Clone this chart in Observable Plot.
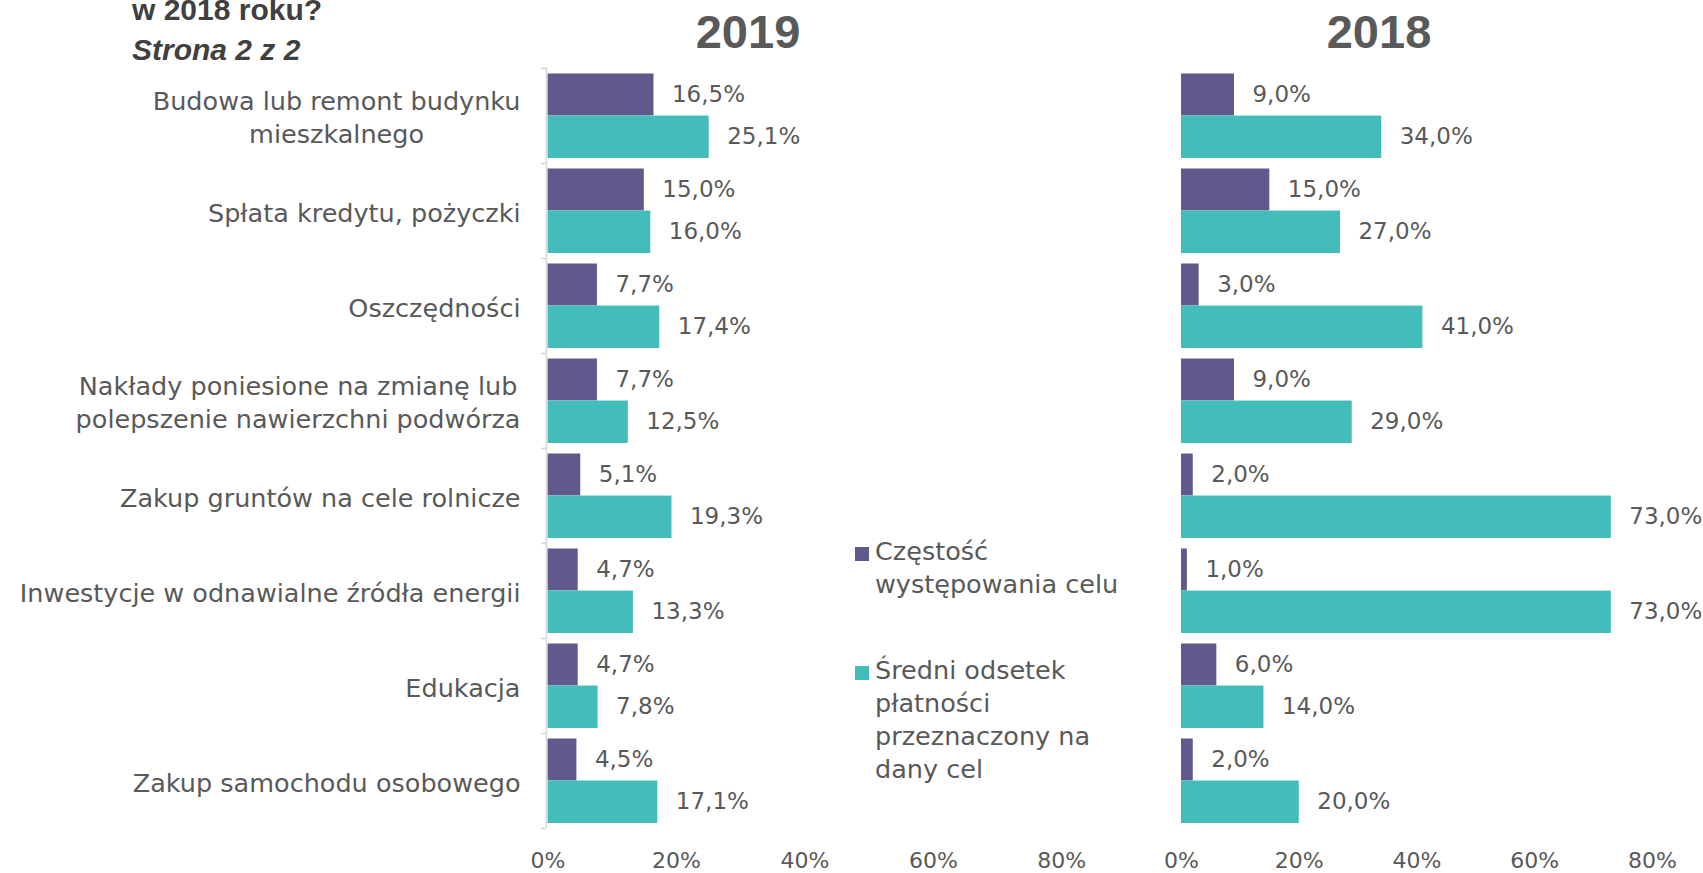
<!DOCTYPE html>
<html>
<head>
<meta charset="utf-8">
<script src="https://cdn.jsdelivr.net/npm/d3@7"></script>
<script src="https://cdn.jsdelivr.net/npm/@observablehq/plot@0.6"></script>
<style>
  html, body { margin: 0; padding: 0; background: #fff; }
  #wrap { position: relative; width: 1703px; height: 873px; overflow: hidden; }
  #wrap > svg { position: absolute; }
</style>
</head>
<body>
<div id="wrap"></div>
<script>
// ---- data ----
const categories = [
  "Budowa lub remont budynku\nmieszkalnego",
  "Spłata kredytu, pożyczki",
  "Oszczędności",
  "Nakłady poniesione na zmianę lub\npolepszenie nawierzchni podwórza",
  "Zakup gruntów na cele rolnicze",
  "Inwestycje w odnawialne źródła energii",
  "Edukacja",
  "Zakup samochodu osobowego"
];
const freq2019  = [16.5, 15.0, 7.7, 7.7, 5.1, 4.7, 4.7, 4.5];
const share2019 = [25.1, 16.0, 17.4, 12.5, 19.3, 13.3, 7.8, 17.1];
const freq2018  = [9.0, 15.0, 3.0, 9.0, 2.0, 1.0, 6.0, 2.0];
const share2018 = [34.0, 27.0, 41.0, 29.0, 73.0, 73.0, 14.0, 20.0];
const xTicks = [0, 20, 40, 60, 80];
const seriesNames = [
  ["Częstość", "występowania celu"],
  ["Średni odsetek", "płatności", "przeznaczony na", "dany cel"]
];
const panelTitles = ["2019", "2018"];
const chartTitle = ["w 2018 roku?", "Strona 2 z 2"];

// ---- style ----
const PURPLE = "#5f5a8b", TEAL = "#43bdbb", GREY = "#595959";
const FONT = "'DejaVu Sans', sans-serif";
const CAT_FS = 25.5, VAL_FS = 23, TICK_FS = 22;
const H = 873, MT = 67.3, MB = H - 828;
const BW = (H - MT - MB) / categories.length;
const fmt = v => v.toFixed(1).replace(".", ",") + "%";

const ctx = document.createElement("canvas").getContext("2d");
ctx.font = `${CAT_FS}px 'DejaVu Sans'`;
const blockWidth = s => Math.max(...s.split("\n").map(l => ctx.measureText(l).width));

function panel(freq, share, o) {
  const rows = categories.map((c, i) => ({cat: c, freq: freq[i], share: share[i]}));
  const marks = [
    Plot.barX(rows, {x: "freq", y: "cat", fill: PURPLE, insetTop: 5.5, insetBottom: BW / 2}),
    Plot.barX(rows, {x: "share", y: "cat", fill: TEAL, insetTop: BW / 2, insetBottom: 5}),
    Plot.text(rows, {x: "freq", y: "cat", text: d => fmt(d.freq), dx: 18, dy: -21, textAnchor: "start", fontSize: VAL_FS, fill: GREY}),
    Plot.text(rows, {x: "share", y: "cat", text: d => fmt(d.share), dx: 18, dy: 21, textAnchor: "start", fontSize: VAL_FS, fill: GREY}),
    Plot.axisX({ticks: xTicks, tickFormat: d => d + "%", tickSize: 0, tickPadding: 24, fontSize: TICK_FS, fill: GREY, label: null})
  ];
  if (o.yAxis) {
    marks.push(
      Plot.ruleX([0], {stroke: "#d9d9d9", strokeWidth: 1.6, dx: -1.5}),
      Plot.axisY({ticks: categories, tickSize: 5, tickFormat: () => "", label: null, stroke: "#d9d9d9", strokeWidth: 1.6, dy: -BW / 2, dx: -1.5}),
      Plot.axisY({ticks: [categories[categories.length - 1]], tickSize: 5, tickFormat: () => "", label: null, stroke: "#d9d9d9", strokeWidth: 1.6, dy: BW / 2, dx: -1.5}),
      ...categories.map(c => {
        const multi = c.includes("\n");
        return Plot.text([c], {
          y: d => d, text: d => d, frameAnchor: "left",
          textAnchor: multi ? "middle" : "end",
          dx: multi ? -27.5 - blockWidth(c) / 2 : -27.5,
          fontSize: CAT_FS, lineHeight: 1.31, fill: GREY
        });
      })
    );
  }
  const svg = Plot.plot({
    width: o.width, height: H,
    marginTop: MT, marginBottom: MB, marginLeft: o.ml, marginRight: o.mr,
    x: {domain: [0, 80], label: null},
    y: {domain: categories, padding: 0, label: null, axis: o.yAxis ? undefined : null},
    style: {fontFamily: FONT, color: GREY, background: "transparent", overflow: "visible"},
    marks
  });
  svg.style.left = o.left + "px";
  svg.style.top = "0px";
  return svg;
}

const wrap = document.getElementById("wrap");
wrap.appendChild(panel(freq2019, share2019, {left: 0, width: 1110, ml: 547.5, mr: 1110 - 1061.3, yAxis: true}));
wrap.appendChild(panel(freq2018, share2018, {left: 1110, width: 593, ml: 71, mr: 51, yAxis: false}));

// ---- overlay: titles and legend ----
const ov = d3.select(wrap).append("svg")
  .attr("width", 1703).attr("height", 873)
  .style("left", "0px").style("top", "0px").style("pointer-events", "none");

ov.append("text").attr("x", 132).attr("y", 20).text(chartTitle[0])
  .attr("font-family", "'Liberation Sans', Arial, sans-serif").attr("font-weight", "bold")
  .attr("font-size", 30).attr("fill", "#404040");
ov.append("text").attr("x", 132).attr("y", 60).text(chartTitle[1])
  .attr("font-family", "'Liberation Sans', Arial, sans-serif").attr("font-weight", "bold")
  .attr("font-style", "italic").attr("font-size", 30).attr("fill", "#404040");

[[748, panelTitles[0]], [1379, panelTitles[1]]].forEach(([x, t]) => {
  ov.append("text").attr("x", x).attr("y", 48).attr("text-anchor", "middle").text(t)
    .attr("font-family", "'Liberation Sans', Arial, sans-serif").attr("font-weight", "bold")
    .attr("font-size", 47).attr("fill", GREY);
});

const legendEntries = [
  {color: PURPLE, lines: seriesNames[0], y0: 560},
  {color: TEAL, lines: seriesNames[1], y0: 679}
];
legendEntries.forEach(e => {
  ov.append("rect").attr("x", 855).attr("y", e.y0 - 13).attr("width", 14).attr("height", 14).attr("fill", e.color);
  const t = ov.append("text").attr("font-family", FONT).attr("font-size", CAT_FS).attr("fill", GREY);
  e.lines.forEach((l, i) => t.append("tspan").attr("x", 875).attr("y", e.y0 + i * 33).text(l));
});
</script>
</body>
</html>
